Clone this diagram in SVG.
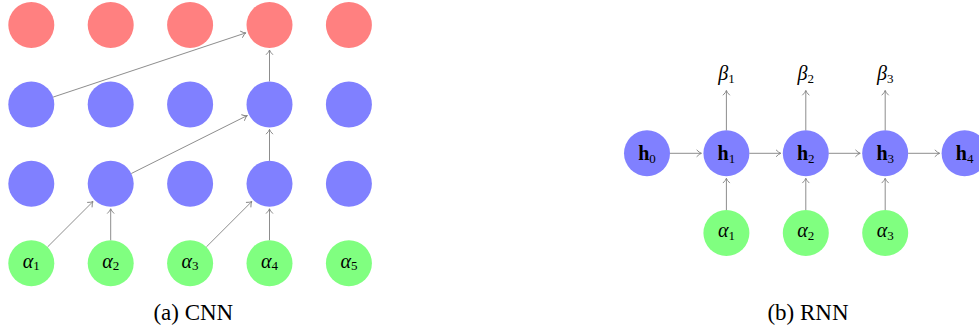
<svg xmlns="http://www.w3.org/2000/svg" width="979" height="329" viewBox="0 0 979 329">
<style>
.r{fill:#FF8080}.b{fill:#8080FF}.g{fill:#80FF80}
.lbl{font-family:"Liberation Serif","DejaVu Serif",serif;font-size:20px;fill:#000;text-anchor:middle}
.it{font-style:italic}.bd{font-weight:bold}
.sub{font-size:13px}
.cap{font-family:"Liberation Serif","DejaVu Serif",serif;font-size:23px;fill:#000;text-anchor:middle}
.e{stroke:#808080;stroke-width:0.9;fill:none;marker-end:url(#ah)}
</style>
<defs>
<marker id="ah" viewBox="-5 -5 7 10" refX="1" refY="0" markerWidth="7" markerHeight="10" markerUnits="userSpaceOnUse" orient="auto">
<path d="M-3.5,-3.2 Q-1,-0.6 1,0 Q-1,0.6 -3.5,3.2" fill="none" stroke="#808080" stroke-width="0.9" stroke-linecap="round"/>
</marker>
</defs>
<g id="cnn-nodes">
<g id="c-o1"><circle class="r" cx="31.3" cy="25" r="23"/></g>
<g id="c-o2"><circle class="r" cx="110.7" cy="25" r="23"/></g>
<g id="c-o3"><circle class="r" cx="190.1" cy="25" r="23"/></g>
<g id="c-o4"><circle class="r" cx="269.5" cy="25" r="23"/></g>
<g id="c-o5"><circle class="r" cx="348.9" cy="25" r="23"/></g>
<g id="c-a1"><circle class="b" cx="31.3" cy="104.4" r="23"/></g>
<g id="c-a2"><circle class="b" cx="110.7" cy="104.4" r="23"/></g>
<g id="c-a3"><circle class="b" cx="190.1" cy="104.4" r="23"/></g>
<g id="c-a4"><circle class="b" cx="269.5" cy="104.4" r="23"/></g>
<g id="c-a5"><circle class="b" cx="348.9" cy="104.4" r="23"/></g>
<g id="c-b1"><circle class="b" cx="31.3" cy="183.8" r="23"/></g>
<g id="c-b2"><circle class="b" cx="110.7" cy="183.8" r="23"/></g>
<g id="c-b3"><circle class="b" cx="190.1" cy="183.8" r="23"/></g>
<g id="c-b4"><circle class="b" cx="269.5" cy="183.8" r="23"/></g>
<g id="c-b5"><circle class="b" cx="348.9" cy="183.8" r="23"/></g>
<g id="c-x1"><circle class="g" cx="31.3" cy="263.2" r="23"/><text class="lbl" x="31.3" y="267.5"><tspan class="it">α</tspan><tspan class="sub" dy="2.5">1</tspan></text></g>
<g id="c-x2"><circle class="g" cx="110.7" cy="263.2" r="23"/><text class="lbl" x="110.7" y="267.5"><tspan class="it">α</tspan><tspan class="sub" dy="2.5">2</tspan></text></g>
<g id="c-x3"><circle class="g" cx="190.1" cy="263.2" r="23"/><text class="lbl" x="190.1" y="267.5"><tspan class="it">α</tspan><tspan class="sub" dy="2.5">3</tspan></text></g>
<g id="c-x4"><circle class="g" cx="269.5" cy="263.2" r="23"/><text class="lbl" x="269.5" y="267.5"><tspan class="it">α</tspan><tspan class="sub" dy="2.5">4</tspan></text></g>
<g id="c-x5"><circle class="g" cx="348.9" cy="263.2" r="23"/><text class="lbl" x="348.9" y="267.5"><tspan class="it">α</tspan><tspan class="sub" dy="2.5">5</tspan></text></g>
</g>
<g id="rnn-nodes">
<g id="r-h0"><circle class="b" cx="647" cy="153.3" r="23"/><text class="lbl" x="647" y="160"><tspan class="bd">h</tspan><tspan class="sub" dy="2.5">0</tspan></text></g>
<g id="r-h1"><circle class="b" cx="726.4" cy="153.3" r="23"/><text class="lbl" x="726.4" y="160"><tspan class="bd">h</tspan><tspan class="sub" dy="2.5">1</tspan></text></g>
<g id="r-h2"><circle class="b" cx="805.8" cy="153.3" r="23"/><text class="lbl" x="805.8" y="160"><tspan class="bd">h</tspan><tspan class="sub" dy="2.5">2</tspan></text></g>
<g id="r-h3"><circle class="b" cx="885.2" cy="153.3" r="23"/><text class="lbl" x="885.2" y="160"><tspan class="bd">h</tspan><tspan class="sub" dy="2.5">3</tspan></text></g>
<g id="r-h4"><circle class="b" cx="964.6" cy="153.3" r="23"/><text class="lbl" x="964.6" y="160"><tspan class="bd">h</tspan><tspan class="sub" dy="2.5">4</tspan></text></g>
<g id="r-x1"><circle class="g" cx="726.4" cy="233" r="23"/><text class="lbl" x="726.4" y="237.3"><tspan class="it">α</tspan><tspan class="sub" dy="2.5">1</tspan></text></g>
<g id="r-x2"><circle class="g" cx="805.8" cy="233" r="23"/><text class="lbl" x="805.8" y="237.3"><tspan class="it">α</tspan><tspan class="sub" dy="2.5">2</tspan></text></g>
<g id="r-x3"><circle class="g" cx="885.2" cy="233" r="23"/><text class="lbl" x="885.2" y="237.3"><tspan class="it">α</tspan><tspan class="sub" dy="2.5">3</tspan></text></g>
<g id="r-y1"><text class="lbl" x="726.4" y="80" fill="#333"><tspan class="it">β</tspan><tspan class="sub" dy="2.5">1</tspan></text></g>
<g id="r-y2"><text class="lbl" x="805.8" y="80" fill="#333"><tspan class="it">β</tspan><tspan class="sub" dy="2.5">2</tspan></text></g>
<g id="r-y3"><text class="lbl" x="885.2" y="80" fill="#333"><tspan class="it">β</tspan><tspan class="sub" dy="2.5">3</tspan></text></g>
</g>
<g id="connectors">
<line class="e" x1="53.1" y1="97.1" x2="245.8" y2="32.9"/>
<line class="e" x1="269.5" y1="81.4" x2="269.5" y2="50"/>
<line class="e" x1="131.3" y1="173.5" x2="247.1" y2="115.6"/>
<line class="e" x1="269.5" y1="160.8" x2="269.5" y2="129.4"/>
<line class="e" x1="47.6" y1="246.9" x2="93" y2="201.5"/>
<line class="e" x1="110.7" y1="240.2" x2="110.7" y2="208.8"/>
<line class="e" x1="206.4" y1="246.9" x2="251.8" y2="201.5"/>
<line class="e" x1="269.5" y1="240.2" x2="269.5" y2="208.8"/>
<line class="e" x1="670" y1="153.3" x2="701.4" y2="153.3"/>
<line class="e" x1="749.4" y1="153.3" x2="780.8" y2="153.3"/>
<line class="e" x1="828.8" y1="153.3" x2="860.2" y2="153.3"/>
<line class="e" x1="908.2" y1="153.3" x2="939.6" y2="153.3"/>
<line class="e" x1="726.4" y1="210" x2="726.4" y2="178.3"/>
<line class="e" x1="805.8" y1="210" x2="805.8" y2="178.3"/>
<line class="e" x1="885.2" y1="210" x2="885.2" y2="178.3"/>
<line class="e" x1="726.4" y1="130.3" x2="726.4" y2="90.5"/>
<line class="e" x1="805.8" y1="130.3" x2="805.8" y2="90.5"/>
<line class="e" x1="885.2" y1="130.3" x2="885.2" y2="90.5"/>
</g>
<text class="cap" x="193.3" y="320">(a) CNN</text>
<text class="cap" x="808" y="320">(b) RNN</text>
</svg>
